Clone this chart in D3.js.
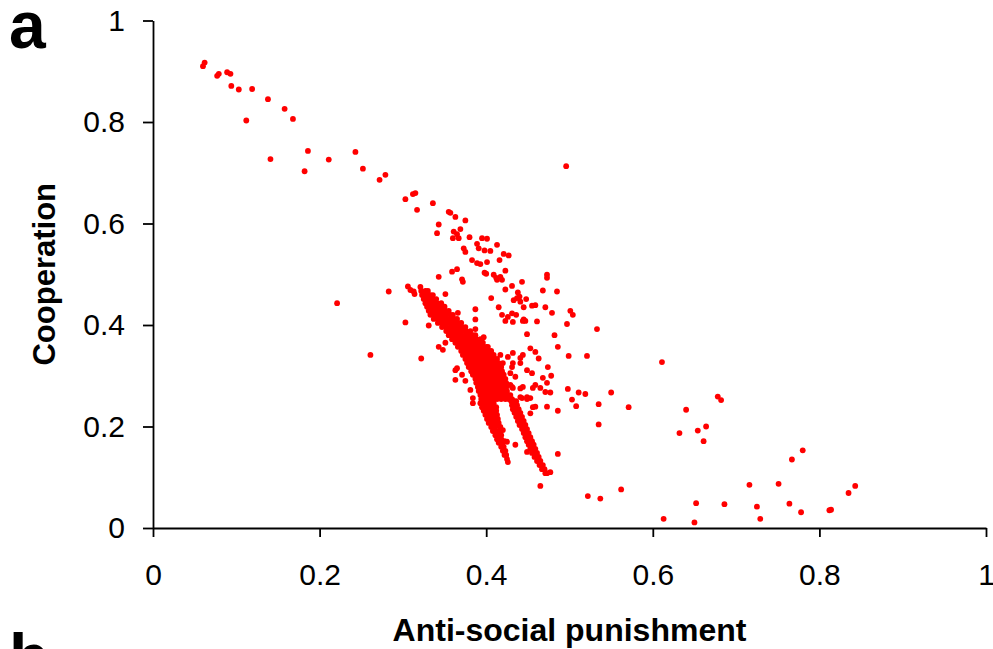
<!DOCTYPE html>
<html>
<head>
<meta charset="utf-8">
<script src="https://cdn.jsdelivr.net/npm/d3@7"></script>
<style>
  body { margin: 0; background: #fff; }
  svg { display: block; }
  .axis path, .axis line { stroke: #000; stroke-width: 1.8px; }
  .axis text { font-family: "Liberation Sans", Arial, sans-serif; font-size: 30px; fill: #000; }
  .title { font-family: "Liberation Sans", Arial, sans-serif; font-weight: bold; fill: #000; }
</style>
</head>
<body>
<div id="chart"></div>
<script>
// tick values and labels
const xTicks = [0, 0.2, 0.4, 0.6, 0.8, 1]
const xTickLabels = ['0', '0.2', '0.4', '0.6', '0.8', '1']
const yTicks = [0, 0.2, 0.4, 0.6, 0.8, 1]
const yTickLabels = ['0', '0.2', '0.4', '0.6', '0.8', '1']

// single points: [anti-social punishment, cooperation]
const outerPoints = [
  [0.062, 0.917], [0.060, 0.910], [0.077, 0.891], [0.079, 0.895], [0.089, 0.898], [0.093, 0.895],
  [0.094, 0.871], [0.103, 0.864], [0.119, 0.865], [0.138, 0.845], [0.158, 0.826], [0.168, 0.806],
  [0.112, 0.803], [0.141, 0.727], [0.186, 0.743], [0.182, 0.703], [0.211, 0.726], [0.243, 0.741],
  [0.252, 0.708], [0.272, 0.686], [0.279, 0.696], [0.303, 0.648], [0.312, 0.658], [0.315, 0.660],
  [0.317, 0.627], [0.336, 0.640], [0.343, 0.598], [0.341, 0.581],
  [0.496, 0.713], [0.221, 0.443], [0.261, 0.341], [0.283, 0.466], [0.303, 0.405], [0.322, 0.334], [0.331, 0.399],
  [0.355, 0.623], [0.357, 0.621], [0.363, 0.613], [0.375, 0.606], [0.369, 0.589], [0.361, 0.584],
  [0.365, 0.579], [0.360, 0.571], [0.367, 0.571], [0.380, 0.573], [0.395, 0.571], [0.401, 0.570],
  [0.389, 0.560], [0.391, 0.551], [0.398, 0.547], [0.413, 0.558], [0.373, 0.551], [0.375, 0.544],
  [0.405, 0.546], [0.383, 0.528], [0.389, 0.522], [0.393, 0.520], [0.401, 0.524], [0.421, 0.540],
  [0.427, 0.537], [0.416, 0.528], [0.423, 0.507], [0.398, 0.503], [0.400, 0.501], [0.409, 0.499],
  [0.412, 0.493], [0.417, 0.495], [0.413, 0.489], [0.419, 0.489], [0.359, 0.505], [0.365, 0.510],
  [0.371, 0.490], [0.372, 0.485], [0.343, 0.495], [0.473, 0.499], [0.473, 0.493], [0.443, 0.485],
  [0.431, 0.477], [0.423, 0.470], [0.438, 0.464], [0.468, 0.468], [0.485, 0.466], [0.306, 0.476],
  [0.309, 0.469], [0.313, 0.466], [0.314, 0.461], [0.351, 0.461], [0.406, 0.453], [0.415, 0.435],
  [0.437, 0.453], [0.440, 0.456], [0.433, 0.449], [0.445, 0.435], [0.455, 0.438], [0.459, 0.439],
  [0.471, 0.435], [0.479, 0.424], [0.501, 0.428], [0.504, 0.420], [0.419, 0.420], [0.426, 0.416],
  [0.431, 0.423], [0.436, 0.420], [0.445, 0.411], [0.461, 0.407], [0.497, 0.402], [0.449, 0.382],
  [0.482, 0.380], [0.366, 0.424], [0.387, 0.431], [0.387, 0.411], [0.387, 0.392], [0.397, 0.376],
  [0.486, 0.357], [0.499, 0.339], [0.521, 0.339], [0.478, 0.300], [0.611, 0.327], [0.477, 0.267],
  [0.498, 0.274], [0.511, 0.267], [0.519, 0.264], [0.550, 0.267], [0.503, 0.253], [0.508, 0.240],
  [0.535, 0.244], [0.571, 0.238], [0.486, 0.231], [0.535, 0.204], [0.678, 0.259], [0.682, 0.252],
  [0.640, 0.233], [0.632, 0.187], [0.654, 0.192], [0.664, 0.200], [0.661, 0.171], [0.486, 0.146],
  [0.477, 0.110], [0.522, 0.063], [0.537, 0.058], [0.562, 0.076], [0.613, 0.018], [0.652, 0.049],
  [0.650, 0.011], [0.686, 0.047], [0.716, 0.085], [0.725, 0.042], [0.729, 0.018], [0.751, 0.087],
  [0.764, 0.048], [0.778, 0.031], [0.767, 0.135], [0.780, 0.153], [0.812, 0.035], [0.814, 0.036],
  [0.835, 0.069], [0.843, 0.083],
  [0.343, 0.357], [0.348, 0.351], [0.351, 0.365], [0.363, 0.311], [0.365, 0.315], [0.371, 0.302],
  [0.375, 0.290], [0.363, 0.292], [0.381, 0.272], [0.384, 0.256], [0.384, 0.246], [0.453, 0.354],
  [0.463, 0.334], [0.429, 0.282], [0.441, 0.275], [0.453, 0.256], [0.459, 0.239], [0.453, 0.226],
  [0.435, 0.164], [0.425, 0.170], [0.465, 0.083], [0.473, 0.239],
  [0.417, 0.341], [0.426, 0.337], [0.432, 0.325], [0.429, 0.305], [0.435, 0.298], [0.431, 0.278],
  [0.443, 0.256], [0.449, 0.258], [0.456, 0.238], [0.420, 0.193], [0.422, 0.171], [0.449, 0.150],
  [0.423, 0.408], [0.432, 0.406], [0.444, 0.408], [0.459, 0.347], [0.444, 0.341], [0.441, 0.335],
  [0.432, 0.345], [0.420, 0.325], [0.431, 0.317], [0.441, 0.325], [0.449, 0.311], [0.455, 0.305],
  [0.474, 0.317], [0.468, 0.296], [0.459, 0.282], [0.456, 0.276], [0.465, 0.276], [0.473, 0.286],
  [0.471, 0.268], [0.444, 0.278], [0.432, 0.276], [0.441, 0.258], [0.449, 0.254],
  [0.441, 0.446], [0.448, 0.451], [0.447, 0.408], [0.533, 0.392]
]

// the dense band, row by row: [cooperation, [anti-social punishment values]]
const bandRows = [
  [0.475, [0.321]],
  [0.467, [0.322, 0.327, 0.330]],
  [0.459, [0.323, 0.328, 0.333, 0.336]],
  [0.451, [0.325, 0.330, 0.335, 0.340]],
  [0.443, [0.327, 0.331, 0.336, 0.341, 0.346]],
  [0.436, [0.329, 0.334, 0.339, 0.343, 0.348, 0.350]],
  [0.428, [0.331, 0.336, 0.341, 0.346, 0.351, 0.355]],
  [0.420, [0.333, 0.337, 0.342, 0.347, 0.352, 0.357, 0.360]],
  [0.412, [0.337, 0.342, 0.347, 0.352, 0.357, 0.361, 0.365]],
  [0.404, [0.342, 0.347, 0.352, 0.357, 0.361, 0.366, 0.370]],
  [0.396, [0.347, 0.352, 0.357, 0.361, 0.366, 0.371, 0.375]],
  [0.388, [0.352, 0.357, 0.361, 0.366, 0.371, 0.376, 0.381]],
  [0.380, [0.355, 0.360, 0.365, 0.370, 0.375, 0.379, 0.384, 0.387]],
  [0.372, [0.359, 0.364, 0.369, 0.373, 0.378, 0.383, 0.388, 0.393]],
  [0.365, [0.363, 0.367, 0.372, 0.377, 0.382, 0.387, 0.391, 0.396]],
  [0.357, [0.366, 0.371, 0.376, 0.381, 0.385, 0.390, 0.395, 0.400, 0.402]],
  [0.349, [0.370, 0.375, 0.379, 0.384, 0.389, 0.394, 0.399, 0.403, 0.406]],
  [0.341, [0.372, 0.377, 0.382, 0.387, 0.391, 0.396, 0.401, 0.406, 0.409]],
  [0.333, [0.375, 0.379, 0.384, 0.389, 0.394, 0.399, 0.403, 0.408, 0.413]],
  [0.325, [0.377, 0.382, 0.387, 0.391, 0.396, 0.401, 0.406, 0.411, 0.415]],
  [0.317, [0.379, 0.384, 0.389, 0.394, 0.399, 0.403, 0.408, 0.413, 0.418]],
  [0.309, [0.382, 0.387, 0.391, 0.396, 0.401, 0.406, 0.411, 0.415, 0.419]],
  [0.302, [0.384, 0.389, 0.394, 0.399, 0.403, 0.408, 0.413, 0.418, 0.421]],
  [0.294, [0.387, 0.391, 0.396, 0.401, 0.406, 0.411, 0.415, 0.420, 0.423]],
  [0.286, [0.388, 0.393, 0.397, 0.402, 0.407, 0.412, 0.417, 0.421, 0.424]],
  [0.278, [0.390, 0.395, 0.400, 0.405, 0.409, 0.414, 0.419, 0.424]],
  [0.270, [0.391, 0.396, 0.401, 0.406, 0.411, 0.415, 0.420, 0.425]],
  [0.262, [0.393, 0.397, 0.402, 0.407, 0.412, 0.417, 0.421, 0.426, 0.429]],
  [0.254, [0.394, 0.399, 0.403, 0.408, 0.413, 0.418, 0.423, 0.427, 0.431]],
  // left arm
  [0.246, [0.393, 0.397, 0.402, 0.407, 0.409]],
  [0.238, [0.395, 0.400, 0.405, 0.409, 0.412]],
  [0.231, [0.397, 0.402, 0.407, 0.412]],
  [0.223, [0.399, 0.403, 0.408, 0.413]],
  [0.215, [0.401, 0.406, 0.411, 0.414]],
  [0.207, [0.403, 0.408, 0.413, 0.415]],
  [0.199, [0.406, 0.411, 0.417]],
  [0.191, [0.408, 0.413, 0.417]],
  [0.183, [0.411, 0.415, 0.418]],
  [0.175, [0.413, 0.416, 0.418]],
  [0.168, [0.415, 0.418, 0.420]],
  [0.160, [0.418, 0.421]],
  [0.152, [0.420, 0.423]],
  [0.144, [0.422, 0.424]],
  [0.136, [0.425]],
  [0.130, [0.426]],
  // right arm
  [0.250, [0.430, 0.433, 0.436]],
  [0.242, [0.431, 0.434, 0.437]],
  [0.234, [0.432, 0.436, 0.439]],
  [0.227, [0.434, 0.438, 0.441]],
  [0.219, [0.436, 0.440, 0.443]],
  [0.211, [0.438, 0.442, 0.445]],
  [0.203, [0.440, 0.444, 0.447]],
  [0.195, [0.443, 0.446, 0.449]],
  [0.187, [0.445, 0.448, 0.451]],
  [0.179, [0.447, 0.450, 0.453]],
  [0.171, [0.449, 0.452, 0.455]],
  [0.164, [0.451, 0.454, 0.457]],
  [0.156, [0.453, 0.456, 0.459]],
  [0.148, [0.455, 0.458, 0.461]],
  [0.140, [0.458, 0.461, 0.463]],
  [0.132, [0.461, 0.463, 0.465]],
  [0.124, [0.464, 0.466, 0.468]],
  [0.116, [0.467, 0.470]],
  [0.108, [0.471, 0.473]]
]

const width = 993
const height = 649
const margin = { top: 20.5, right: 7, bottom: 121, left: 153 }

const bandPoints = bandRows.flatMap(function (r) { return r[1].map(function (x) { return [x, r[0]] }) })
const points = bandPoints.concat(outerPoints)

const svg = d3.select('#chart').append('svg')
  .attr('width', width)
  .attr('height', height)

const x = d3.scaleLinear().domain([0, 1]).range([margin.left, width - margin.right])
const y = d3.scaleLinear().domain([0, 1]).range([height - margin.bottom, margin.top])

// axes
svg.append('g')
  .attr('class', 'axis')
  .attr('transform', 'translate(0,' + y(0) + ')')
  .call(d3.axisBottom(x).tickValues(xTicks).tickSize(9).tickSizeOuter(0).tickPadding(27)
    .tickFormat(function (d, i) { return xTickLabels[i] }))

svg.append('g')
  .attr('class', 'axis')
  .attr('transform', 'translate(' + x(0) + ',0)')
  .call(d3.axisLeft(y).tickValues(yTicks).tickSize(10).tickSizeOuter(0).tickPadding(18)
    .tickFormat(function (d, i) { return yTickLabels[i] }))

// dots
svg.append('g')
  .selectAll('circle')
  .data(points)
  .enter().append('circle')
  .attr('cx', function (d) { return x(d[0]) })
  .attr('cy', function (d) { return y(d[1]) })
  .attr('r', 2.9)
  .attr('fill', '#f00')

// titles
svg.append('text')
  .attr('class', 'title')
  .attr('x', (x(0) + x(1)) / 2)
  .attr('y', 641)
  .attr('text-anchor', 'middle')
  .style('font-size', '32px')
  .text('Anti-social punishment')

svg.append('text')
  .attr('class', 'title')
  .attr('transform', 'translate(55,' + y(0.5) + ') rotate(-90)')
  .attr('text-anchor', 'middle')
  .style('font-size', '31px')
  .text('Cooperation')

svg.append('text')
  .attr('class', 'title')
  .attr('x', 9)
  .attr('y', 48)
  .style('font-size', '66px')
  .text('a')

svg.append('text')
  .attr('class', 'title')
  .attr('x', 9)
  .attr('y', 680)
  .style('font-size', '66px')
  .text('b')
</script>
</body>
</html>
